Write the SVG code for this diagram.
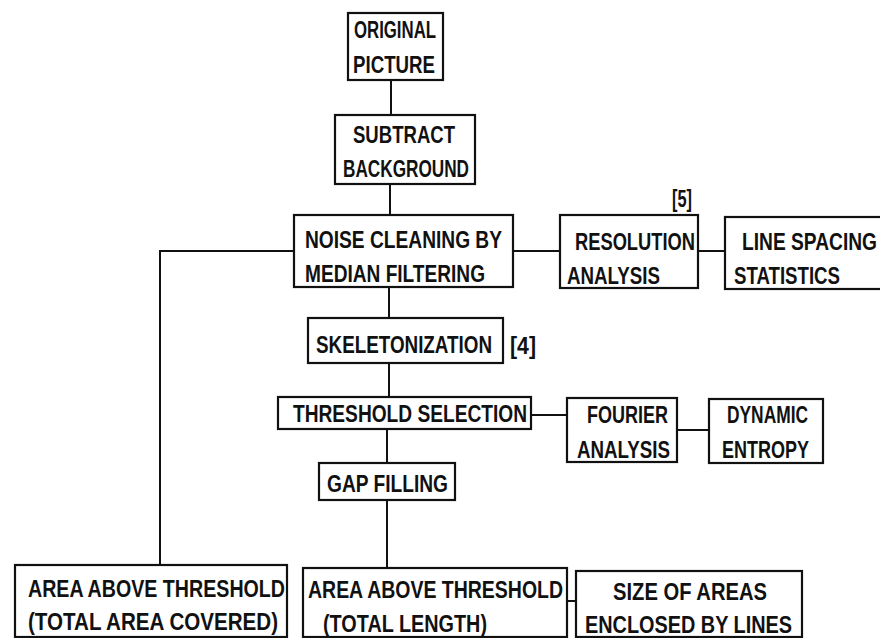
<svg xmlns="http://www.w3.org/2000/svg" width="880" height="638" viewBox="0 0 880 638">
<style>
rect.b{fill:#fff;stroke:#111;stroke-width:2.2}
.c line,.c polyline{stroke:#111;stroke-width:2;fill:none}
text{font-family:"Liberation Sans Narrow","Liberation Sans",Arial,sans-serif;font-weight:bold;font-size:24px;fill:#111}
</style>
<rect width="880" height="638" fill="#fff"/>
<g class="c" id="connectors">
<line x1="391" y1="80" x2="391" y2="115"/>
<line x1="390" y1="184" x2="390" y2="215"/>
<line x1="513" y1="251" x2="560" y2="251"/>
<line x1="698" y1="251" x2="725" y2="251"/>
<polyline points="294,251 160,251 160,565"/>
<line x1="389" y1="287" x2="389" y2="318"/>
<line x1="389" y1="363" x2="389" y2="397"/>
<line x1="531" y1="415" x2="567" y2="415"/>
<line x1="677" y1="430" x2="709" y2="430"/>
<line x1="387" y1="429" x2="387" y2="463"/>
<line x1="387" y1="500" x2="387" y2="568"/>
<line x1="567" y1="601" x2="576" y2="601"/>
</g>
<g id="original">
<rect class="b" x="348" y="13" width="95" height="67"/>
<text x="354" y="38" textLength="82" lengthAdjust="spacingAndGlyphs">ORIGINAL</text>
<text x="353" y="73" textLength="82" lengthAdjust="spacingAndGlyphs">PICTURE</text>
</g>
<g id="subtract">
<rect class="b" x="335" y="115" width="140" height="69"/>
<text x="353" y="143" textLength="102" lengthAdjust="spacingAndGlyphs">SUBTRACT</text>
<text x="343" y="177" textLength="126" lengthAdjust="spacingAndGlyphs">BACKGROUND</text>
</g>
<g id="noise">
<rect class="b" x="294" y="215" width="219" height="72"/>
<text x="305" y="248" textLength="197" lengthAdjust="spacingAndGlyphs">NOISE CLEANING BY</text>
<text x="305" y="282" textLength="180" lengthAdjust="spacingAndGlyphs">MEDIAN FILTERING</text>
</g>
<g id="resolution">
<rect class="b" x="560" y="215" width="138" height="73"/>
<text x="575" y="250" textLength="120" lengthAdjust="spacingAndGlyphs">RESOLUTION</text>
<text x="567" y="284" textLength="93" lengthAdjust="spacingAndGlyphs">ANALYSIS</text>
<text x="672" y="207" textLength="20" lengthAdjust="spacingAndGlyphs" font-weight="normal">[5]</text>
</g>
<g id="linespacing">
<rect class="b" x="725" y="217" width="165" height="72"/>
<text x="742" y="250" textLength="135" lengthAdjust="spacingAndGlyphs">LINE SPACING</text>
<text x="734" y="284" textLength="106" lengthAdjust="spacingAndGlyphs">STATISTICS</text>
</g>
<g id="skeleton">
<rect class="b" x="308" y="318" width="195" height="45"/>
<text x="316" y="353" textLength="176" lengthAdjust="spacingAndGlyphs">SKELETONIZATION</text>
<text x="510" y="354" textLength="26" lengthAdjust="spacingAndGlyphs" font-weight="normal">[4]</text>
</g>
<g id="threshold">
<rect class="b" x="278" y="397" width="253" height="32"/>
<text x="293" y="422" textLength="234" lengthAdjust="spacingAndGlyphs">THRESHOLD SELECTION</text>
</g>
<g id="fourier">
<rect class="b" x="567" y="398" width="110" height="64"/>
<text x="587" y="423" textLength="81" lengthAdjust="spacingAndGlyphs">FOURIER</text>
<text x="577" y="458" textLength="93" lengthAdjust="spacingAndGlyphs">ANALYSIS</text>
</g>
<g id="dynamic">
<rect class="b" x="709" y="399" width="114" height="64"/>
<text x="727" y="423" textLength="81" lengthAdjust="spacingAndGlyphs">DYNAMIC</text>
<text x="722" y="458" textLength="87" lengthAdjust="spacingAndGlyphs">ENTROPY</text>
</g>
<g id="gap">
<rect class="b" x="319" y="463" width="136" height="37"/>
<text x="327" y="492" textLength="121" lengthAdjust="spacingAndGlyphs">GAP FILLING</text>
</g>
<g id="areacovered">
<rect class="b" x="15" y="565" width="272" height="72"/>
<text x="28" y="597" textLength="257" lengthAdjust="spacingAndGlyphs">AREA ABOVE THRESHOLD</text>
<text x="28" y="630" textLength="250" lengthAdjust="spacingAndGlyphs">(TOTAL AREA COVERED)</text>
</g>
<g id="arealength">
<rect class="b" x="303" y="568" width="264" height="69"/>
<text x="308" y="598" textLength="255" lengthAdjust="spacingAndGlyphs">AREA ABOVE THRESHOLD</text>
<text x="323" y="632" textLength="164" lengthAdjust="spacingAndGlyphs">(TOTAL LENGTH)</text>
</g>
<g id="enclosed">
<rect class="b" x="576" y="571" width="226" height="66"/>
<text x="613" y="600" textLength="154" lengthAdjust="spacingAndGlyphs">SIZE OF AREAS</text>
<text x="585" y="633" textLength="207" lengthAdjust="spacingAndGlyphs">ENCLOSED BY LINES</text>
</g>
</svg>
